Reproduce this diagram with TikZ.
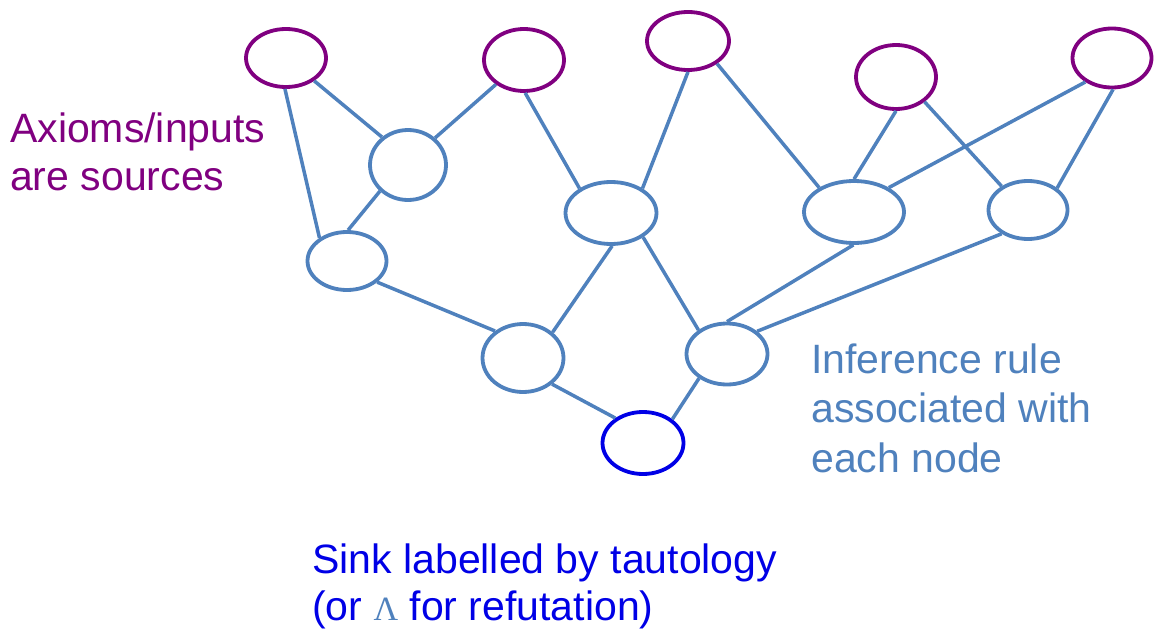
\documentclass[tikz,border=0pt]{standalone}
\usepackage{fontspec}
\setmainfont{Liberation Sans}
\newfontfamily\lamfont{Liberation Serif}
\usetikzlibrary{shapes.geometric}
\definecolor{axiompurple}{RGB}{128,0,128}
\definecolor{rulesblue}{RGB}{79,129,189}
\definecolor{sinkblue}{RGB}{0,0,230}

\begin{document}
\begin{tikzpicture}[x=1pt,y=-1pt,
  vert/.style={ellipse, draw=rulesblue, line width=3.8pt, inner sep=0pt, fill=white},
  src/.style={vert, draw=axiompurple},
  snk/.style={vert, draw=sinkblue},
  link/.style={draw=rulesblue, line width=3.5pt},
  lbl/.style={inner sep=0pt, align=left}
]
\useasboundingbox (0,0) rectangle (1156,634);

% sources (axioms / inputs)
\node[src, minimum width=80pt, minimum height=58pt] (A1) at (286,58) {};
\node[src, minimum width=80pt, minimum height=62pt] (A2) at (524,60) {};
\node[src, minimum width=82pt, minimum height=58pt] (A3) at (688,41) {};
\node[src, minimum width=80pt, minimum height=64pt] (A4) at (896,77) {};
\node[src, minimum width=79pt, minimum height=59pt] (A5) at (1112,58) {};

% inner derivation nodes
\node[vert, minimum width=76pt, minimum height=70pt] (B1) at (408,165) {};
\node[vert, minimum width=91pt, minimum height=62pt] (B2) at (611,213) {};
\node[vert, minimum width=100pt, minimum height=62pt] (B3) at (854,212) {};
\node[vert, minimum width=79pt, minimum height=58pt] (B4) at (1028,210) {};
\node[vert, minimum width=79pt, minimum height=58pt] (C1) at (347,261) {};
\node[vert, minimum width=81pt, minimum height=68pt] (D1) at (523,358) {};
\node[vert, minimum width=81pt, minimum height=61pt] (D2) at (727,354) {};

% sink
\node[snk, minimum width=81pt, minimum height=62pt] (S) at (643,443) {};

% inference edges
\draw[link] (A1.-92)   -- (C1.140);
\draw[link] (A1.-39)   -- (B1.133);
\draw[link] (A2.-139)  -- (B1.45);
\draw[link] (A2.-88)   -- (B2.142);
\draw[link] (A3.-90)   -- (B2.38);
\draw[link] (A3.-38)   -- (B3.145);
\draw[link] (A4.-90)   -- (B3.90);
\draw[link] (A4.-41)   -- (B4.138);
\draw[link] (A5.-138)  -- (B3.35);
\draw[link] (A5.-88)   -- (B4.37);
\draw[link] (B1.-137)  -- (C1.88);
\draw[link] (C1.-35)   -- (D1.136);
\draw[link] (B2.-88)   -- (D1.41);
\draw[link] (B2.-37)   -- (D2.140);
\draw[link] (B3.-91)   -- (D2.90);
\draw[link] (B4.-138)  -- (D2.37);
\draw[link] (D1.-42)   -- (S.138);
\draw[link] (D2.-139)  -- (S.39);

% labels (base anchor sits on the last line)
\node[lbl, text=axiompurple, anchor=base west, font=\fontsize{41}{48}\selectfont] (axlbl) at (10,190)
  {Axioms/inputs\\are sources};
\node[lbl, text=rulesblue, anchor=base west, font=\fontsize{41}{49.5}\selectfont] (rulelbl) at (811,472)
  {Inference rule\\associated with\\each node};
\node[lbl, text=sinkblue, anchor=base west, font=\fontsize{41}{47}\selectfont] (sinklbl) at (312,620)
  {Sink labelled by tautology\\(or {\lamfont\fontsize{34}{34}\selectfont\color{rulesblue}Λ} for refutation)};
\end{tikzpicture}
\end{document}
